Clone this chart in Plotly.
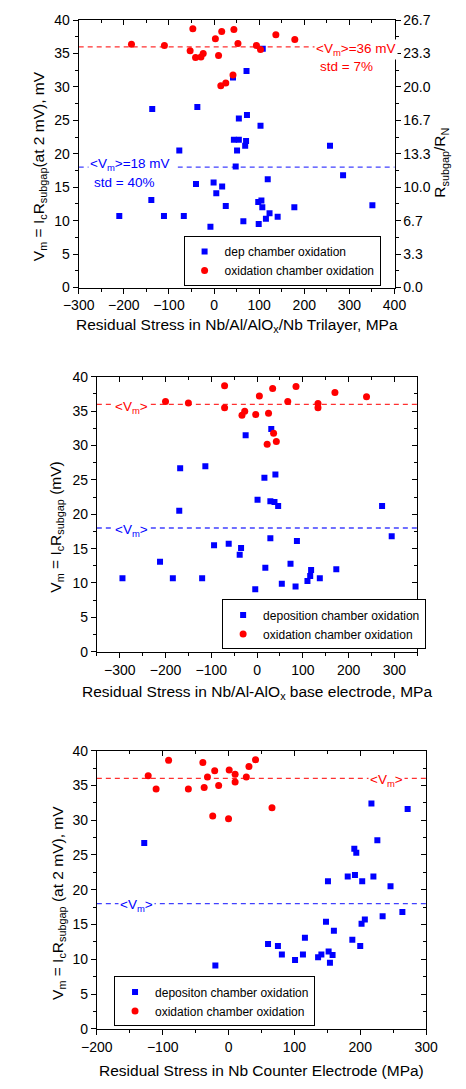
import plotly.graph_objects as go

W, H = 466, 1089

# ---------------- data ----------------
# Panel 1: trilayer stress
p1_dep_x = [-210, -139, -137, -111, -77, -67, -40, -37, -8, -1, 5, 18, 26, 42, 44, 55, 48, 51, 55, 65,
            69, 71, 72, 73, 99, 98, 103, 105, 107, 108, 115, 119, 123, 141, 178, 257, 286, 351]
p1_dep_y = [10.7, 13.1, 26.7, 10.7, 20.5, 10.7, 15.5, 27.0, 9.1, 15.7, 14.1, 15.1, 12.2, 31.4, 22.1, 22.1,
            18.1, 20.5, 25.3, 9.9, 21.2, 21.9, 32.4, 25.8, 9.5, 12.8, 24.2, 13.0, 12.0, 35.7, 10.3, 16.2,
            11.1, 10.6, 12.0, 21.2, 16.8, 12.3]
p1_ox_x = [-183, -110, -47, -53, -41, -29, -24, 3, 10, 17, 44, 53, 15, 26, 42, 94, 103, 137, 179]
p1_ox_y = [36.4, 36.2, 38.7, 35.4, 34.4, 34.5, 35.0, 37.2, 34.7, 38.3, 38.6, 36.5, 30.2, 30.6, 31.8,
           36.2, 35.6, 37.8, 37.1]

# Panel 2: base electrode stress
p2_dep_x = [-294, -212, -184, -170, -168, -120, -113, -94, -62, -38, -35, -25, -4, 1, 18, 16, 29, 29,
            31, 38, 40, 46, 54, 73, 84, 87, 110, 116, 118, 137, 173, 273, 294]
p2_dep_y = [10.7, 13.1, 10.7, 20.5, 26.7, 10.7, 27.0, 15.5, 15.7, 14.1, 15.1, 31.5, 9.1, 22.1, 12.2,
            25.3, 16.5, 21.9, 32.4, 21.8, 25.8, 21.2, 9.9, 12.8, 9.5, 16.1, 10.3, 11.0, 11.9, 10.7,
            12.0, 21.2, 16.8]
p2_ox_x = [-200, -150, -71, -71, -33, -27, -3, 5, 25, 34, 67, 85, 133, 133, 36, 22, 42, 170, 239]
p2_ox_y = [36.4, 36.2, 38.7, 35.5, 34.4, 35.0, 34.5, 37.2, 34.7, 38.3, 36.4, 38.6, 36.1, 35.5, 31.8,
           30.2, 30.6, 37.7, 37.1]

# Panel 3: counter electrode stress
p3_dep_x = [-128, -20, 60, 75, 81, 101, 113, 116, 136, 141, 148, 151, 152, 154, 158, 160, 181, 188,
            191, 192, 194, 200, 202, 203, 207, 217, 220, 226, 234, 246, 264, 272]
p3_dep_y = [26.7, 9.1, 12.2, 11.9, 10.7, 9.9, 10.7, 13.1, 10.3, 10.7, 15.4, 21.2, 11.1, 9.5, 10.6,
            14.1, 21.9, 12.8, 25.9, 22.1, 25.3, 11.9, 15.1, 21.2, 15.7, 32.4, 21.9, 27.1, 16.2, 20.5,
            16.8, 31.6]
p3_ox_x = [-122, -110, -91, -61, -39, -37, -32, -24, -21, -15, 0, 1, 10, 10, 27, 31, 41, 66]
p3_ox_y = [36.4, 34.5, 38.6, 34.5, 38.3, 34.7, 36.2, 30.6, 37.1, 35.0, 30.2, 37.2, 36.6, 35.5, 36.2,
           37.7, 38.7, 31.8]

mean_ox = 36
mean_dep = 18

legend_names = [
    ["dep chamber oxidation", "oxidation chamber oxidation"],
    ["deposition chamber oxidation", "oxidation chamber oxidation"],
    ["depositon chamber oxidation", "oxidation chamber oxidation"],
]
x_titles = [
    "Residual Stress in Nb/Al/AlO<sub>x</sub>/Nb Trilayer, MPa",
    "Residual Stress in Nb/Al-AlO<sub>x</sub> base electrode, MPa",
    "Residual Stress in Nb Counter Electrode (MPa)",
]
y_titles = [
    "V<sub>m</sub> = I<sub>c</sub>R<sub>subgap</sub>(at 2 mV), mV",
    "V<sub>m</sub> = I<sub>c</sub>R<sub>subgap</sub> (mV)",
    "V<sub>m</sub> = I<sub>c</sub>R<sub>subgap</sub> (at 2 mV), mV",
]
right_title = "R<sub>subgap</sub>/R<sub>N</sub>"

# ---------------- styling ----------------
FONT = "Liberation Sans, Arial, sans-serif"
BLUE = "#0000ff"
RED = "#ff0000"
LRED = "#ff3030"
LBLUE = "#4040ff"
TICKF = dict(family=FONT, size=14, color="black")
TITLEF = dict(family=FONT, size=15.5, color="black")


def fx(p):
    return p / W


def fy(p):
    return 1 - p / H


panels = [
    dict(n=1, xdom=(66.7, 402.7), ydom=(12.3, 283.7), xr=[-300, 400],
         dep=(p1_dep_x, p1_dep_y), ox=(p1_ox_x, p1_ox_y),
         leg=(178.3, 256.8, "middle"), xt=(234.7, 322.7), yt=(25, 160)),
    dict(n=2, xdom=(86, 427), ydom=(374.3, 653.3), xr=[-350, 350],
         dep=(p2_dep_x, p2_dep_y), ox=(p2_ox_x, p2_ox_y),
         leg=(219.3, 651, "bottom"), xt=(256.5, 695), yt=(43, 527)),
    dict(n=3, xdom=(86, 436.3), ydom=(753.7, 1036), xr=[-200, 300],
         dep=(p3_dep_x, p3_dep_y), ox=(p3_ox_x, p3_ox_y),
         leg=(104.3, 1008.2, "middle"), xt=(261.2, 1078), yt=(45, 908)),
]

fig = go.Figure()
layout = dict(width=W, height=H, autosize=False, margin=dict(l=0, r=0, t=0, b=0),
              paper_bgcolor="white", plot_bgcolor="white", showlegend=True)
annotations = []
shapes = []

for i, p in enumerate(panels):
    k = 2 * i + 1
    xm = "x" if k == 1 else f"x{k}"
    ym = "y" if k == 1 else f"y{k}"
    xo = f"x{k+1}"
    yo = f"y{k+1}"
    legid = "legend" if i == 0 else f"legend{i+1}"

    fig.add_trace(go.Scatter(x=p["dep"][0], y=p["dep"][1], mode="markers", xaxis=xm, yaxis=ym,
                             name=legend_names[i][0], legend=legid,
                             marker=dict(symbol="square", size=6, color=BLUE)))
    fig.add_trace(go.Scatter(x=p["ox"][0], y=p["ox"][1], mode="markers", xaxis=xm, yaxis=ym,
                             name=legend_names[i][1], legend=legid,
                             marker=dict(symbol="circle", size=7, color=RED)))
    fig.add_trace(go.Scatter(x=[None], y=[None], mode="markers", xaxis=xo, yaxis=yo,
                             showlegend=False, hoverinfo="skip"))

    xdom = [fx(p["xdom"][0]), fx(p["xdom"][1])]
    ydom = [fy(p["ydom"][1]), fy(p["ydom"][0])]
    common = dict(showgrid=False, zeroline=False, showline=True, linecolor="black", linewidth=1,
                  tickcolor="black", tickwidth=1, tickfont=TICKF)

    layout["xaxis" if k == 1 else f"xaxis{k}"] = dict(
        domain=xdom, range=p["xr"], anchor=ym, tickmode="linear", tick0=0, dtick=100,
        ticks="outside", ticklen=5,
        minor=dict(ticks="outside", ticklen=3, tick0=0, dtick=50, tickcolor="black"), **common)
    layout[f"xaxis{k+1}"] = dict(
        overlaying=xm, anchor=ym, side="top", range=p["xr"], tickmode="linear", tick0=0, dtick=100,
        ticks="inside", ticklen=5, showticklabels=False,
        minor=dict(ticks="inside", ticklen=3, tick0=0, dtick=50, tickcolor="black"), **common)
    layout["yaxis" if k == 1 else f"yaxis{k}"] = dict(
        domain=ydom, range=[0, 40], anchor=xm, tickmode="linear", tick0=0, dtick=5,
        ticks="outside", ticklen=5,
        minor=dict(ticks="outside", ticklen=3, tick0=0, dtick=2.5, tickcolor="black"), **common)
    if i == 0:
        layout[f"yaxis{k+1}"] = dict(
            overlaying=ym, anchor=xm, side="right", range=[0, 26.6668], tickmode="linear",
            tick0=0, dtick=10 / 3, tickformat=".1f", ticks="outside", ticklen=5,
            minor=dict(ticks="outside", ticklen=3, tick0=0, dtick=5 / 3, tickcolor="black"), **common)
    else:
        layout[f"yaxis{k+1}"] = dict(
            overlaying=ym, anchor=xm, side="right", range=[0, 40], tickmode="linear", tick0=0,
            dtick=5, ticks="inside", ticklen=5, showticklabels=False,
            minor=dict(ticks="inside", ticklen=3, tick0=0, dtick=2.5, tickcolor="black"), **common)

    layout[legid] = dict(x=fx(p["leg"][0]), y=fy(p["leg"][1]), xanchor="left", yanchor=p["leg"][2],
                         bordercolor="black", borderwidth=1, bgcolor="white",
                         font=dict(family=FONT, size=12, color="black"),
                         tracegroupgap=0, itemwidth=30)

    # mean lines
    for val, col in ((mean_ox, LRED), (mean_dep, LBLUE)):
        shapes.append(dict(type="line", xref=f"{xm} domain", yref=ym, x0=0, x1=1, y0=val, y1=val,
                           line=dict(color=col, width=1.3, dash="5px,4px"), layer="below"))

    # axis titles
    annotations.append(dict(text=x_titles[i], xref="paper", yref="paper",
                            x=fx(p["xt"][0]), y=fy(p["xt"][1]), xanchor="center", yanchor="middle",
                            showarrow=False, font=TITLEF))
    annotations.append(dict(text=y_titles[i], xref="paper", yref="paper", textangle=-90,
                            x=fx(p["yt"][0]), y=fy(p["yt"][1]), xanchor="center", yanchor="middle",
                            showarrow=False, font=TITLEF))

annotations.append(dict(text=right_title, xref="paper", yref="paper", textangle=-90,
                        x=fx(451.7), y=fy(157.5), xanchor="center", yanchor="middle",
                        showarrow=False, font=TITLEF))

AF = 13.5


def label(text, xl, yc, color, width=None):
    d = dict(text=text, xref="paper", yref="paper", x=fx(xl), y=fy(yc), xanchor="left",
             yanchor="middle", showarrow=False, bgcolor="white", borderpad=1, align="left",
             font=dict(family=FONT, size=AF, color=color))
    if width:
        d["width"] = width
    annotations.append(d)


label("&lt;V<sub>m</sub>&gt;=36 mV", 317, 41.7, RED)
label("std = 7%", 321, 59.3, RED)
label("&lt;V<sub>m</sub>&gt;=18 mV", 77, 158.7, BLUE, width=86)
label("std = 40%", 81, 176.7, BLUE)
label("&lt;V<sub>m</sub>&gt;", 103, 405, RED)
label("&lt;V<sub>m</sub>&gt;", 103, 530, BLUE)
label("&lt;V<sub>m</sub>&gt;", 375, 784, RED)
label("&lt;V<sub>m</sub>&gt;", 109, 910.7, BLUE)

layout["annotations"] = annotations
layout["shapes"] = shapes
fig.update_layout(**layout)

fig.write_html("out.html",
               config={"displayModeBar": False, "displaylogo": False},
               post_script="document.body.style.margin='0px';document.body.style.overflow='hidden';")
